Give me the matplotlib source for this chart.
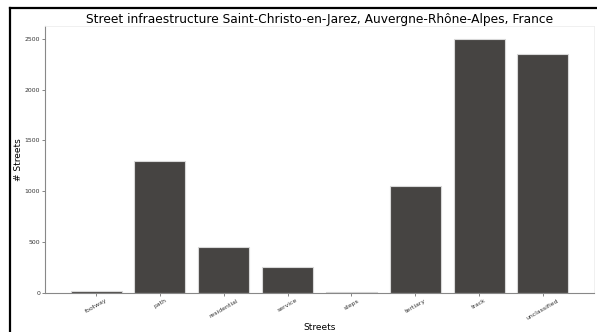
import matplotlib
matplotlib.use("Agg")
import matplotlib.pyplot as plt
from matplotlib.lines import Line2D

categories = ["footway", "path", "residential", "service", "steps", "tertiary", "track", "unclassified"]
counts = [23, 1300, 450, 253, 5, 1056, 2500, 2352]
yticks = [0, 500, 1000, 1500, 2000, 2500]

fig = plt.figure(figsize=(5.97, 3.32), dpi=100)
ax = fig.add_axes([45/597, 1-293/332, (594-45)/597, (293-26)/332])
x = list(range(len(categories)))
ax.bar(x, counts, width=0.8, color="#464442", edgecolor="#d8d8d8", linewidth=0.8)
ax.set_xlim(-0.8, 7.8)
ax.set_ylim(0, max(counts) * 1.05)
ax.set_xticks(x)
ax.set_xticklabels(categories, rotation=30, fontsize=4.4)
ax.set_yticks(yticks)
ax.set_yticklabels([str(v) for v in yticks], fontsize=4.4)
ax.tick_params(length=2, width=0.5, colors="#555555", pad=1.5)
for lab in ax.get_xticklabels():
    lab.set_color("#333333")
for lab in ax.get_yticklabels():
    lab.set_color("#333333")
for s in ["left", "bottom"]:
    ax.spines[s].set_color("#888888")
    ax.spines[s].set_linewidth(0.8)
for s in ["top", "right"]:
    ax.spines[s].set_color("#eeeeee")
    ax.spines[s].set_linewidth(0.6)
ax.set_title("Street infraestructure Saint-Christo-en-Jarez, Auvergne-Rhône-Alpes, France", fontsize=8.8, pad=2)
ax.set_xlabel("Streets", fontsize=6.5, labelpad=2)
ax.set_ylabel("# Streets", fontsize=6.5, labelpad=1)

fig.add_artist(Line2D([10/597, 10/597], [0, 1-8/332], transform=fig.transFigure, color="black", linewidth=1.6))
fig.add_artist(Line2D([10/597, 1], [1-8/332, 1-8/332], transform=fig.transFigure, color="black", linewidth=1.6))

fig.savefig("out.png", dpi=100)
